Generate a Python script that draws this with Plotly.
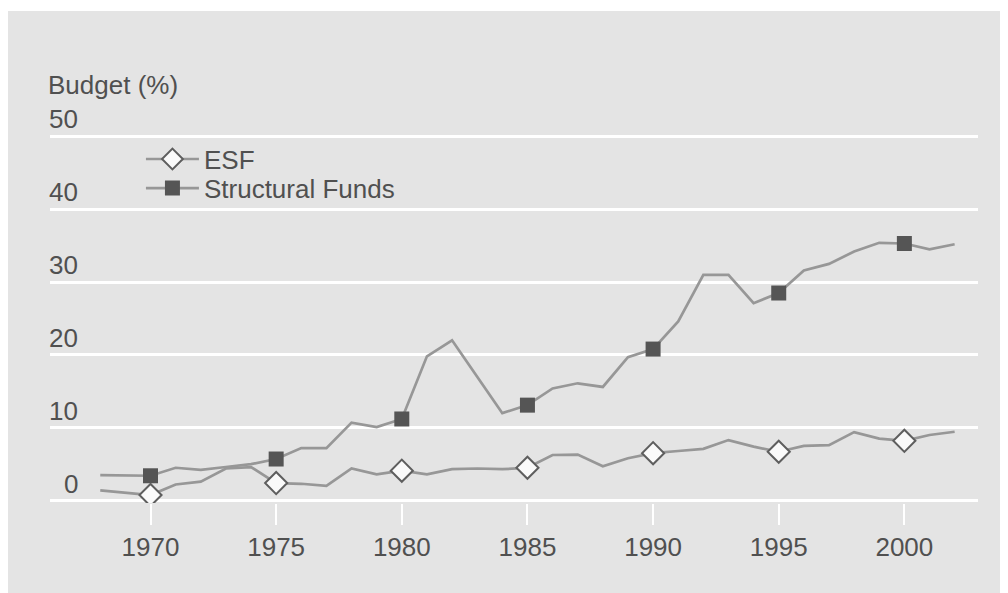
import plotly.graph_objects as go

# ---------------------------------------------------------------------------
# Data
# ---------------------------------------------------------------------------
years = list(range(1968, 2003))

esf = [1.4, 1.1, 0.75, 2.2, 2.6, 4.4, 4.6, 2.4, 2.3, 2.0,
       4.4, 3.6, 4.1, 3.6, 4.3, 4.4, 4.3, 4.5, 6.25, 6.3,
       4.7, 5.8, 6.5, 6.8, 7.1, 8.3, 7.4, 6.7, 7.5, 7.6,
       9.4, 8.5, 8.2, 9.0, 9.45]

structural = [3.5, 3.5, 3.4, 4.5, 4.2, 4.6, 5.0, 5.7, 7.2, 7.2,
              10.7, 10.1, 11.2, 19.8, 22.0, 17.0, 12.0, 13.1, 15.4, 16.1,
              15.6, 19.7, 20.8, 24.6, 31.0, 31.0, 27.1, 28.5, 31.6, 32.5,
              34.2, 35.4, 35.3, 34.5, 35.2]

y_ticks = [0, 10, 20, 30, 40, 50]
x_ticks = [1970, 1975, 1980, 1985, 1990, 1995, 2000]

# ---------------------------------------------------------------------------
# Style
# ---------------------------------------------------------------------------
BG = "#e4e4e4"
LINE = "#979797"
TEXT = "#505050"
FONT = "Liberation Sans, Arial, sans-serif"
FS = 26

esf_marker = dict(symbol="diamond", size=17, color="#fafafa",
                  line=dict(color="#5e5e5e", width=2))
sf_marker = dict(symbol="square", size=15, color="#555555",
                 line=dict(color="#555555", width=0))

mark_x = [y for y in years if y % 5 == 0]
esf_marks = [v for y, v in zip(years, esf) if y % 5 == 0]
sf_marks = [v for y, v in zip(years, structural) if y % 5 == 0]

fig = go.Figure()

# legend entries (line with marker, like the reference key)
fig.add_trace(go.Scatter(x=[None], y=[None], mode="lines+markers", name="ESF",
                         line=dict(color=LINE, width=2.7), marker=esf_marker,
                         legend="legend"))
fig.add_trace(go.Scatter(x=[None], y=[None], mode="lines+markers",
                         name="Structural Funds", legend="legend2",
                         line=dict(color=LINE, width=2.7), marker=sf_marker))

# yearly lines
fig.add_trace(go.Scatter(x=years, y=structural, mode="lines", showlegend=False,
                         line=dict(color=LINE, width=2.7)))
fig.add_trace(go.Scatter(x=years, y=esf, mode="lines", showlegend=False,
                         line=dict(color=LINE, width=2.7)))

# five-yearly markers
fig.add_trace(go.Scatter(x=mark_x, y=sf_marks, mode="markers", showlegend=False,
                         marker=sf_marker))
fig.add_trace(go.Scatter(x=mark_x, y=esf_marks, mode="markers", showlegend=False,
                         marker=esf_marker))

# y tick labels sit above the gridlines, inside the panel
annotations = [
    dict(x=0.032, y=v, xref="paper", yref="y", text=str(v),
         xanchor="right", yanchor="middle", yshift=17, showarrow=False,
         font=dict(family=FONT, size=FS, color=TEXT))
    for v in y_ticks
]
annotations.append(dict(x=-0.004, y=1.1206, xref="paper", yref="paper",
                        text="Budget (%)", xanchor="left", yanchor="middle",
                        showarrow=False,
                        font=dict(family=FONT, size=FS, color=TEXT)))

legend_style = dict(xanchor="left", yanchor="top", bgcolor="rgba(0,0,0,0)",
                    font=dict(family=FONT, size=FS, color=TEXT), itemwidth=53)

fig.update_layout(
    width=1000,
    height=585,
    margin=dict(l=42, r=30, t=122, b=90),
    paper_bgcolor="white",
    plot_bgcolor=BG,
    font=dict(family=FONT, size=FS, color=TEXT),
    showlegend=True,
    legend=dict(x=0.098, y=0.985, **legend_style),
    legend2=dict(x=0.098, y=0.907, **legend_style),
    annotations=annotations,
    shapes=[dict(type="rect", xref="paper", yref="paper",
                 x0=-0.06, x1=1.05, y0=-0.3, y1=1.319,
                 fillcolor=BG, line=dict(width=0), layer="below")],
    xaxis=dict(range=[1966, 2002.93], tickvals=x_ticks, showgrid=False,
               zeroline=False, showline=False, ticks="outside",
               ticklen=21, tickwidth=2, tickcolor="white",
               tickfont=dict(family=FONT, size=FS, color=TEXT)),
    yaxis=dict(range=[-0.34, 50.89], tickvals=y_ticks, showticklabels=False,
               showgrid=True, gridcolor="white", gridwidth=3,
               zeroline=False, showline=False),
)

fig.write_html("out.html")
